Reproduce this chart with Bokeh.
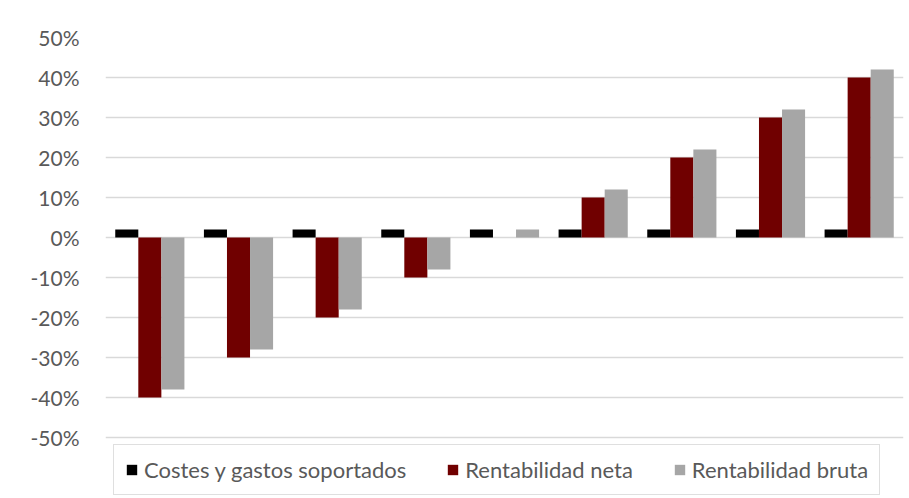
from bokeh.plotting import figure
from bokeh.models import (ColumnDataSource, FactorRange, FixedTicker, NumeralTickFormatter,
                          Legend, LegendItem, Range1d)
from bokeh.transform import dodge
from bokeh.embed import file_html
from bokeh.resources import INLINE

categories = ["1", "2", "3", "4", "5", "6", "7", "8", "9"]
costes = [0.02, 0.02, 0.02, 0.02, 0.02, 0.02, 0.02, 0.02, 0.02]
neta = [-0.40, -0.30, -0.20, -0.10, 0.0, 0.10, 0.20, 0.30, 0.40]
bruta = [-0.38, -0.28, -0.18, -0.08, 0.02, 0.12, 0.22, 0.32, 0.42]
series_names = ["Costes y gastos soportados", "Rentabilidad neta", "Rentabilidad bruta"]
series_colors = ["#000000", "#700000", "#a6a6a6"]
y_ticks = [-0.5, -0.4, -0.3, -0.2, -0.1, 0.0, 0.1, 0.2, 0.3, 0.4, 0.5]

src = ColumnDataSource(dict(cat=categories, costes=costes, neta=neta, bruta=bruta))

FONT = "Lato"

# frame extends below the -50% line to leave room for the legend inside it
p = figure(width=909, height=498, x_range=FactorRange(factors=categories),
           y_range=Range1d(start=-0.6475, end=0.5), output_backend="svg", toolbar_location=None,
           x_axis_location=None,
           min_border_left=105, min_border_right=6, min_border_top=37, min_border_bottom=2)
p.outline_line_color = None

bw = 0.26
r1 = p.vbar(x=dodge("cat", -bw, range=p.x_range), top="costes", bottom=0, width=bw,
            source=src, fill_color=series_colors[0], line_color=None)
r2 = p.vbar(x=dodge("cat", 0.0, range=p.x_range), top="neta", bottom=0, width=bw,
            source=src, fill_color=series_colors[1], line_color=None)
r3 = p.vbar(x=dodge("cat", bw, range=p.x_range), top="bruta", bottom=0, width=bw,
            source=src, fill_color=series_colors[2], line_color=None)

p.xgrid.grid_line_color = None
p.ygrid.grid_line_color = "#d9d9d9"
p.ygrid.grid_line_width = 1.5

ya = p.yaxis[0]
ya.ticker = FixedTicker(ticks=y_ticks)
ya.formatter = NumeralTickFormatter(format="0%")
ya.axis_line_color = None
ya.major_tick_line_color = None
ya.minor_tick_line_color = None
ya.major_label_standoff = 20
ya.major_label_text_font = FONT
ya.major_label_text_font_size = "21px"
ya.major_label_text_color = "#595959"

legend = Legend(items=[LegendItem(label=series_names[0], renderers=[r1]),
                       LegendItem(label=series_names[1], renderers=[r2]),
                       LegendItem(label=series_names[2], renderers=[r3])],
                orientation="horizontal", location=(8, 1))
legend.label_text_font = FONT
legend.label_text_font_size = "22px"
legend.label_text_color = "#595959"
legend.glyph_width = 13
legend.glyph_height = 13
legend.label_standoff = 6
legend.spacing = 40
legend.padding = 11
legend.margin = 0
legend.border_line_color = "#bfbfbf"
legend.border_line_width = 1.5
p.add_layout(legend, "center")

open("out.html", "w").write(file_html(p, INLINE))
